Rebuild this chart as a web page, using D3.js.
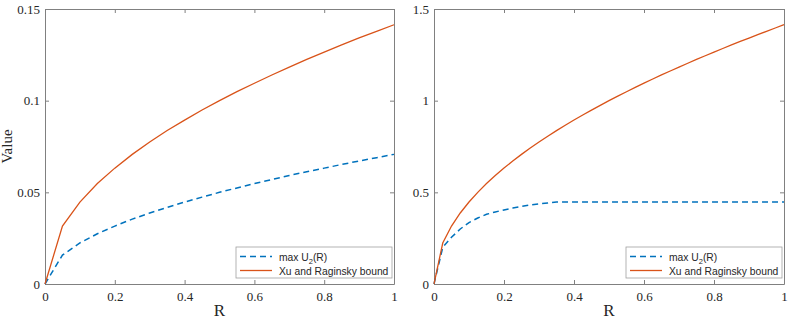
<!DOCTYPE html>
<html>
<head>
<meta charset="utf-8">
<script src="https://cdn.jsdelivr.net/npm/d3@7"></script>
<style>
  body { margin: 0; background: #fff; }
  svg { display: block; }
  .tick text { font-family: "Liberation Serif", "Times New Roman", serif; font-size: 13px; fill: #262626; }
</style>
</head>
<body>
<script>
const W = 789, H = 322;

// left panel: R sampled every 0.05
const rLeft = [0,0.05,0.1,0.15,0.2,0.25,0.3,0.35,0.4,0.45,0.5,0.55,0.6,0.65,0.7,0.75,0.8,0.85,0.9,0.95,1];
const boundLeft = [0,0.0316,0.0447,0.0548,0.0632,0.0707,0.0775,0.0837,0.0894,0.0949,0.1,0.1049,0.1095,0.114,0.1183,0.1225,0.1265,0.1304,0.1342,0.1378,0.1414];
const u2Left = [0,0.0158,0.0224,0.0274,0.0316,0.0354,0.0387,0.0418,0.0447,0.0474,0.05,0.0524,0.0548,0.057,0.0592,0.0612,0.0632,0.0652,0.0671,0.0689,0.0707];

// right panel: R sampled every 0.025
const rRight = [0,0.025,0.05,0.075,0.1,0.125,0.15,0.175,0.2,0.225,0.25,0.275,0.3,0.325,0.35,0.375,0.4,0.425,0.45,0.475,0.5,0.525,0.55,0.575,0.6,0.625,0.65,0.675,0.7,0.725,0.75,0.775,0.8,0.825,0.85,0.875,0.9,0.925,0.95,0.975,1];
const boundRight = [0,0.2236,0.3162,0.3873,0.4472,0.5,0.5477,0.5916,0.6325,0.6708,0.7071,0.7416,0.7746,0.8062,0.8367,0.866,0.8944,0.922,0.9487,0.9747,1,1.0247,1.0488,1.0724,1.0954,1.118,1.1402,1.1619,1.1832,1.2042,1.2247,1.245,1.2649,1.2845,1.3038,1.3229,1.3416,1.3601,1.3784,1.3964,1.4142];
const u2Right = [0,0.2,0.255,0.3,0.335,0.36,0.38,0.393,0.404,0.414,0.423,0.431,0.437,0.442,0.447,0.447,0.447,0.447,0.447,0.447,0.447,0.447,0.447,0.447,0.447,0.447,0.447,0.447,0.447,0.447,0.447,0.447,0.447,0.447,0.447,0.447,0.447,0.447,0.447,0.447,0.447];

const xTicks = [0,0.2,0.4,0.6,0.8,1];
const yTicksLeft = [0,0.05,0.1,0.15];
const yTicksRight = [0,0.5,1,1.5];
const legendLabels = ['max U', 'Xu and Raginsky bound'];

const blue = '#0072BD', orange = '#D95319', axisCol = '#808080';

const svg = d3.select('body').append('svg').attr('width', W).attr('height', H);

function panel(x0, x1, yMax, rs, bound, u2, yTicks, showYLabel){
  const top = 9, bottom = 284;
  const x = d3.scaleLinear().domain([0,1]).range([x0, x1]);
  const y = d3.scaleLinear().domain([0,yMax]).range([bottom, top]);
  const g = svg.append('g');

  // box with ticks on all four sides
  const tickLen = 4;
  const bx = g.append('g').attr('transform', `translate(0,${bottom})`)
    .call(d3.axisBottom(x).tickValues(xTicks).tickFormat(d3.format('~g')).tickSizeInner(-tickLen).tickSizeOuter(0).tickPadding(8));
  const by = g.append('g').attr('transform', `translate(${x0},0)`)
    .call(d3.axisLeft(y).tickValues(yTicks).tickFormat(d3.format('~g')).tickSizeInner(-tickLen).tickSizeOuter(0).tickPadding(5));
  const bt = g.append('g').attr('transform', `translate(0,${top})`)
    .call(d3.axisTop(x).tickValues(xTicks).tickFormat('').tickSizeInner(-tickLen).tickSizeOuter(0));
  const br = g.append('g').attr('transform', `translate(${x1},0)`)
    .call(d3.axisRight(y).tickValues(yTicks).tickFormat('').tickSizeInner(-tickLen).tickSizeOuter(0));
  [bx, by, bt, br].forEach(a => {
    a.selectAll('path, line').attr('stroke', axisCol);
  });

  const line = d3.line().x((d,i) => x(rs[i])).y(d => y(d));
  g.append('path').datum(u2).attr('d', line)
    .attr('fill','none').attr('stroke', blue).attr('stroke-width', 1.5).attr('stroke-dasharray','6,4');
  g.append('path').datum(bound).attr('d', line)
    .attr('fill','none').attr('stroke', orange).attr('stroke-width', 1.3);

  // x label
  g.append('text').attr('x', (x0+x1)/2).attr('y', 316).attr('text-anchor','middle')
    .style('font-family','"Liberation Serif", serif').style('font-size','17px').attr('fill','#262626').text('R');
  if (showYLabel){
    g.append('text').attr('transform', `translate(12,${(top+bottom)/2}) rotate(-90)`).attr('text-anchor','middle')
      .style('font-family','"Liberation Serif", serif').style('font-size','15px').attr('fill','#262626').text('Value');
  }

  // legend
  const lx = x1 - 158, ly = 247, lw = 156, lh = 31;
  const lg = g.append('g');
  lg.append('rect').attr('x', lx).attr('y', ly).attr('width', lw).attr('height', lh)
    .attr('fill','#fff').attr('stroke','#a0a0a0').attr('stroke-width',0.8);
  const rows = [{c: blue, dash:'6,4', w:1.5}, {c: orange, dash:null, w:1.3}];
  rows.forEach((r, i) => {
    const yy = ly + 9.5 + i*14;
    lg.append('line').attr('x1', lx+4).attr('x2', lx+36).attr('y1', yy).attr('y2', yy)
      .attr('stroke', r.c).attr('stroke-width', r.w).attr('stroke-dasharray', r.dash);
    const t = lg.append('text').attr('x', lx+43).attr('y', yy+4)
      .style('font-family','"Liberation Sans", Arial, sans-serif').style('font-size','10.3px').attr('fill','#262626');
    if (i === 0){
      t.append('tspan').text(legendLabels[0]);
      t.append('tspan').attr('dy', 3).style('font-size','7.5px').text('2');
      t.append('tspan').attr('dy', -3).text('(R)');
    } else {
      t.text(legendLabels[1]);
    }
  });
}

panel(45, 394, 0.15, rLeft, boundLeft, u2Left, yTicksLeft, true);
panel(434, 784, 1.5, rRight, boundRight, u2Right, yTicksRight, false);
</script>
</body>
</html>
